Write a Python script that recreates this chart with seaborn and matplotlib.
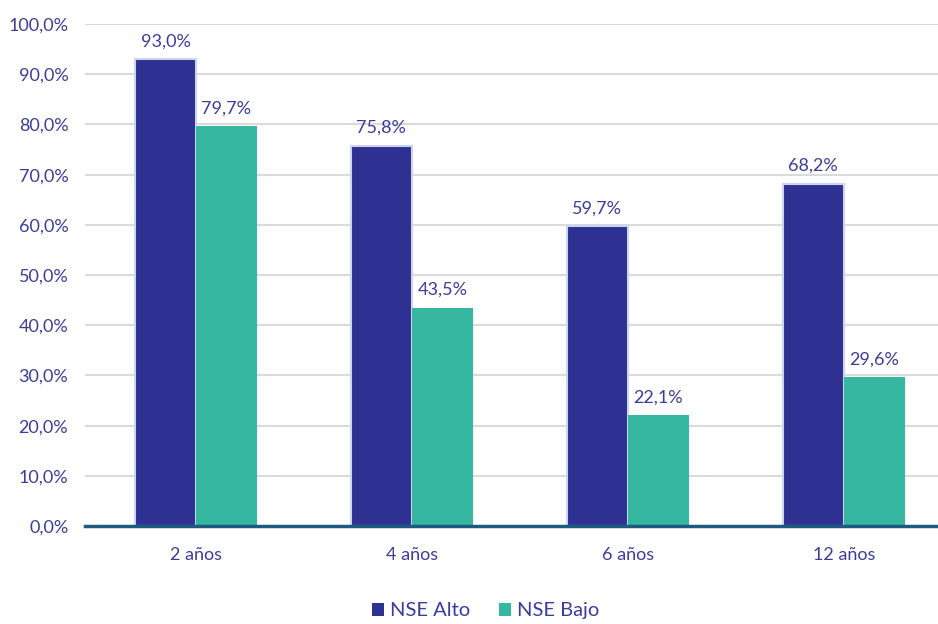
import pandas as pd
import matplotlib.pyplot as plt
import seaborn as sns

edades = ['2 años', '4 años', '6 años', '12 años']
nse_alto = [93.0, 75.8, 59.7, 68.2]
nse_bajo = [79.7, 43.5, 22.1, 29.6]
grupos = ['NSE Alto', 'NSE Bajo']

df = pd.DataFrame({
    'edad': edades * 2,
    'valor': nse_alto + nse_bajo,
    'grupo': [grupos[0]] * 4 + [grupos[1]] * 4,
})

sns.set_style('white')
plt.rcParams['font.family'] = ['Lato', 'DejaVu Sans']
txt = '#3b3d9c'

fig = plt.figure(figsize=(9.38, 6.24), dpi=100)
ax = fig.add_axes([0.0906, 0.157, 0.909, 0.8045])
sns.barplot(data=df, x='edad', y='valor', hue='grupo', order=edades,
            palette=['#2e3192', '#36b7a2'], saturation=1, width=0.565, ax=ax,
            edgecolor='white', linewidth=0)

# bordes claros en las barras oscuras
for p in ax.containers[0]:
    p.set_edgecolor('#c9d5ec')
    p.set_linewidth(1.5)

for c in ax.containers:
    ax.bar_label(c, labels=[f'{v:.1f}%'.replace('.', ',') for v in c.datavalues],
                 padding=7, color=txt, fontsize=13)

ax.set_ylim(0, 100)
ax.set_xlim(-0.514, 3.435)
ax.set_yticks(range(0, 101, 10))
ax.set_yticklabels([f'{v},0%' for v in range(0, 101, 10)])
ax.yaxis.grid(True, color='#dadada', linewidth=1.5)
ax.set_axisbelow(True)
ax.tick_params(axis='both', colors=txt, labelsize=13, length=0)
ax.tick_params(axis='x', pad=15)
ax.tick_params(axis='y', pad=12)
ax.set_xlabel('')
ax.set_ylabel('')
for s in ['top', 'right', 'left']:
    ax.spines[s].set_visible(False)
ax.spines['bottom'].set_color('#1d5a80')
ax.spines['bottom'].set_linewidth(2.5)

ax.legend(loc='lower center', bbox_to_anchor=(0.47, -0.222), ncol=2, frameon=False,
          fontsize=14.5, labelcolor=txt, handlelength=0.6, handleheight=0.6,
          handletextpad=0.3, columnspacing=1.4)

fig.savefig('out.png', dpi=100)
